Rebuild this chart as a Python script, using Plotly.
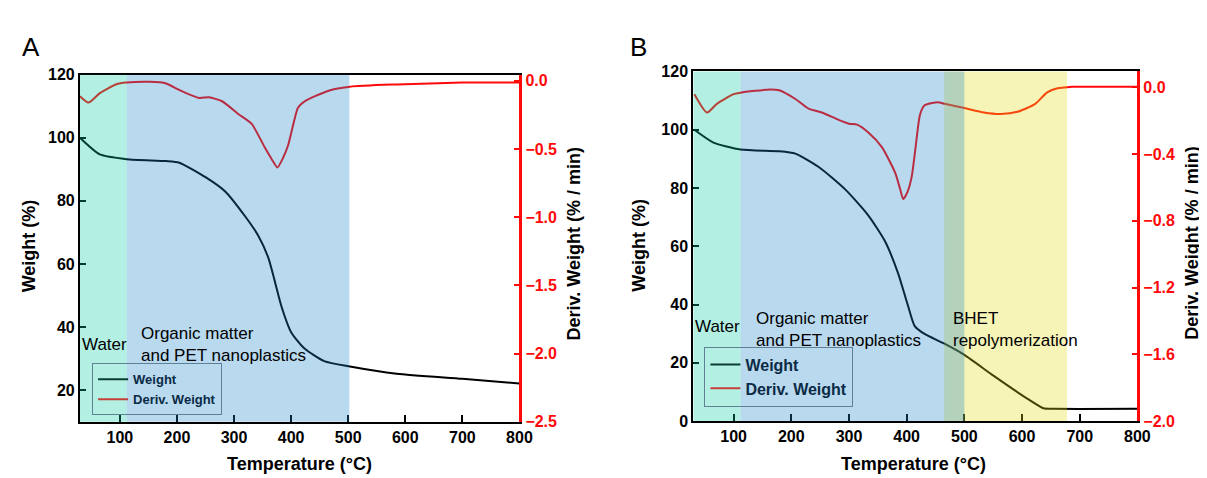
import plotly.graph_objects as go

# ---------------- data ----------------
# Panel A
tA_w = [30, 65, 112, 181, 204, 250, 285, 319, 342, 360, 371, 383, 400, 423, 458, 503, 585, 700, 800]
wA = [100, 94.7, 93.2, 92.6, 92.1, 87.5, 82.9, 75.2, 69.1, 62, 54.8, 46.6, 38.4, 33.3, 29.2, 27.5, 25.2, 23.6, 22.1]
tA_d = [30, 45, 65, 94, 112, 152, 181, 204, 239, 256, 279, 308, 331, 354, 366, 376, 386, 395, 404, 412, 424,
        441, 470, 503, 585, 700, 800]
dA = [-0.114, -0.16, -0.09, -0.025, -0.013, -0.008, -0.02, -0.067, -0.126, -0.121, -0.15, -0.245, -0.316,
      -0.49, -0.575, -0.635, -0.564, -0.469, -0.316, -0.197, -0.15, -0.114, -0.067, -0.043, -0.027, -0.013, -0.013]

# Panel B
tB_w = [32, 65, 112, 179, 207, 247, 293, 333, 362, 385, 402, 414, 431, 463, 500, 551, 609, 637, 655, 800]
wB = [100, 95.6, 93.2, 92.6, 91.8, 87.3, 79.6, 70.7, 61.9, 50.8, 39.8, 32.6, 29.9, 26.8, 22.7, 15.5, 7.7, 4.4,
      4.2, 4.2]
tB_d = [32, 54, 71, 100, 112, 163, 179, 207, 230, 253, 282, 300, 314, 334, 357, 380, 388.5, 394, 401.5, 409,
        415.5, 423, 431, 454, 466, 500, 534, 563, 592, 623, 643, 660, 677, 686, 800]
dB = [-0.041, -0.151, -0.099, -0.041, -0.032, -0.013, -0.018, -0.07, -0.128, -0.151, -0.195, -0.218, -0.224,
      -0.272, -0.358, -0.512, -0.608, -0.67, -0.627, -0.531, -0.358, -0.166, -0.108, -0.089, -0.099, -0.124,
      -0.151, -0.16, -0.147, -0.099, -0.032, -0.007, 0.0, 0.003, 0.003]

# regions (start, end) in deg C
regA = {"Water": (30, 112), "Organic": (112, 502)}
regB = {"Water": (30, 112), "Organic": (112, 500), "BHET": (465, 678)}

xticks = [100, 200, 300, 400, 500, 600, 700, 800]
yticksA = [20, 40, 60, 80, 100, 120]
rticksA = [0.0, -0.5, -1.0, -1.5, -2.0, -2.5]
yticksB = [0, 20, 40, 60, 80, 100, 120]
rticksB = [0.0, -0.4, -0.8, -1.2, -1.6, -2.0]

# ---------------- styling ----------------
W, H = 1207, 478
FONT = "Liberation Sans, Arial, sans-serif"
RED = "#ff0a0a"
BLACK = "#000000"
TEAL = "rgba(2,205,162,0.3)"
BLUE = "rgba(22,128,198,0.3)"
YEL = "rgba(225,218,18,0.3)"


def px(x):
    return x / W


def py(y):
    return 1 - y / H


fig = go.Figure()

line_w = dict(color=BLACK, width=2, shape="spline", smoothing=0.6)
line_d = dict(color=RED, width=2, shape="spline", smoothing=0.6)

fig.add_trace(go.Scatter(x=tA_w, y=wA, mode="lines", line=line_w, xaxis="x", yaxis="y", showlegend=False))
fig.add_trace(go.Scatter(x=tA_d, y=dA, mode="lines", line=line_d, xaxis="x", yaxis="y2", showlegend=False))
fig.add_trace(go.Scatter(x=tB_w, y=wB, mode="lines", line=line_w, xaxis="x2", yaxis="y3", showlegend=False))
fig.add_trace(go.Scatter(x=tB_d, y=dB, mode="lines", line=line_d, xaxis="x2", yaxis="y4", showlegend=False))

# legend entries (colours as seen through the translucent water band)
for lg in ["legend", "legend2"]:
    fig.add_trace(go.Scatter(x=[None], y=[None], mode="lines", name="Weight",
                             line=dict(color="#0a3e32", width=2), legend=lg,
                             xaxis="x" if lg == "legend" else "x2", yaxis="y" if lg == "legend" else "y3"))
    fig.add_trace(go.Scatter(x=[None], y=[None], mode="lines", name="Deriv. Weight",
                             line=dict(color="#c4403a", width=2), legend=lg,
                             xaxis="x" if lg == "legend" else "x2", yaxis="y" if lg == "legend" else "y3"))

# translucent shaded bands drawn above the curves
shapes = []
shapes.append(dict(type="rect", xref="x", yref="y domain", x0=regA["Water"][0], x1=regA["Water"][1], y0=0, y1=1,
                   fillcolor=TEAL, line=dict(width=0), layer="above"))
shapes.append(dict(type="rect", xref="x", yref="y domain", x0=regA["Organic"][0], x1=regA["Organic"][1], y0=0,
                   y1=1, fillcolor=BLUE, line=dict(width=0), layer="above"))
shapes.append(dict(type="rect", xref="x2", yref="y3 domain", x0=regB["Water"][0], x1=regB["Water"][1], y0=0,
                   y1=1, fillcolor=TEAL, line=dict(width=0), layer="above"))
shapes.append(dict(type="rect", xref="x2", yref="y3 domain", x0=regB["BHET"][0], x1=regB["BHET"][1], y0=0,
                   y1=1, fillcolor=YEL, line=dict(width=0), layer="above"))
shapes.append(dict(type="rect", xref="x2", yref="y3 domain", x0=regB["Organic"][0], x1=regB["Organic"][1], y0=0,
                   y1=1, fillcolor=BLUE, line=dict(width=0), layer="above"))

tickfont = dict(family=FONT, size=16, color=BLACK, weight="bold")
rtickfont = dict(family=FONT, size=16, color=RED, weight="bold")


def xax(domain, anchor):
    return dict(domain=domain, anchor=anchor, range=[30, 800], tickvals=xticks, ticks="inside", ticklen=7,
                tickwidth=2, tickcolor=BLACK, showline=True, linecolor=BLACK, linewidth=2, mirror=True,
                showgrid=False, zeroline=False, tickfont=tickfont)


def yax(domain, anchor, rng, vals):
    return dict(domain=domain, anchor=anchor, range=rng, tickvals=vals, ticks="inside", ticklen=6, tickwidth=2,
                tickcolor=BLACK, showline=True, linecolor=BLACK, linewidth=2, showgrid=False, zeroline=False,
                tickfont=tickfont)


def rax(over, anchor, rng, vals):
    return dict(overlaying=over, anchor=anchor, side="right", range=rng, tickvals=vals,
                ticktext=[("%.1f" % v).replace("-", "\u2212") for v in vals], ticks="inside", ticklen=6,
                tickwidth=2, tickcolor=RED, showline=True, linecolor=RED, linewidth=2.5, showgrid=False,
                zeroline=False, tickfont=rtickfont)


fig.update_layout(
    width=W, height=H, margin=dict(l=0, r=0, t=0, b=0),
    paper_bgcolor="white", plot_bgcolor="white",
    xaxis=xax([px(72.7), px(517)], "y"),
    yaxis=yax([py(420.7), py(60.8)], "x", [10, 120], yticksA),
    yaxis2=rax("y", "x", [-2.5, 0.045], rticksA),
    xaxis2=xax([px(692.7), px(1141.7)], "y3"),
    yaxis3=yax([py(420), py(57.5)], "x2", [0, 120], yticksB),
    yaxis4=rax("y3", "x2", [-2.0, 0.095], rticksB),
    shapes=shapes,
    legend=dict(x=px(85), y=py(414), xanchor="left", yanchor="bottom", bgcolor="rgba(0,0,0,0)",
                bordercolor="#608095", borderwidth=1, itemwidth=30, tracegroupgap=0,
                font=dict(family=FONT, size=13, color="#0a2a45", weight="bold")),
    legend2=dict(x=px(704), y=py(405), xanchor="left", yanchor="bottom", bgcolor="rgba(0,0,0,0)",
                 bordercolor="#608095", borderwidth=1, itemwidth=30, tracegroupgap=0,
                 font=dict(family=FONT, size=16, color="#0a2a45", weight="bold")),
    showlegend=True,
)

ann = []
title_font = dict(family=FONT, size=18, color=BLACK, weight="bold")
label_font = dict(family=FONT, size=17, color=BLACK)


def pann(text, x, y, font, angle=0):
    return dict(text=text, x=px(x), y=py(y), xref="paper", yref="paper", xanchor="center", yanchor="middle",
                showarrow=False, textangle=angle, font=font)


# panel letters
ann.append(pann("A", 23, 32, dict(family=FONT, size=26, color=BLACK)))
ann.append(pann("B", 637, 32, dict(family=FONT, size=26, color=BLACK)))
# axis titles
for xl, xr, xc in [(21, 572, 295), (637, 1196, 915)]:
    ann.append(pann("Weight (%)", xl, 238, title_font, -90))
    ann.append(pann("Deriv. Weight (% / min)", xr, 236, title_font, -90))
    ann.append(pann("Temperature (\u00b0C)", xc, 465, title_font))


# region labels
def dann(text, x, y, xr, yr):
    return dict(text=text, x=x, y=y, xref=xr, yref=yr, xanchor="left", yanchor="middle", align="left",
                showarrow=False, font=label_font, borderpad=0)


ann.append(dann("Water", 32, 34.4, "x", "y"))
ann.append(dann("Organic matter<br>and PET nanoplastics", 136, 34.6, "x", "y"))
ann.append(dann("Water", 32, 32.6, "x2", "y3"))
ann.append(dann("Organic matter<br>and PET nanoplastics", 137, 31.5, "x2", "y3"))
ann.append(dann("BHET<br>repolymerization", 478, 31.5, "x2", "y3"))
fig.update_layout(annotations=ann)

fig.write_html("out.html")
